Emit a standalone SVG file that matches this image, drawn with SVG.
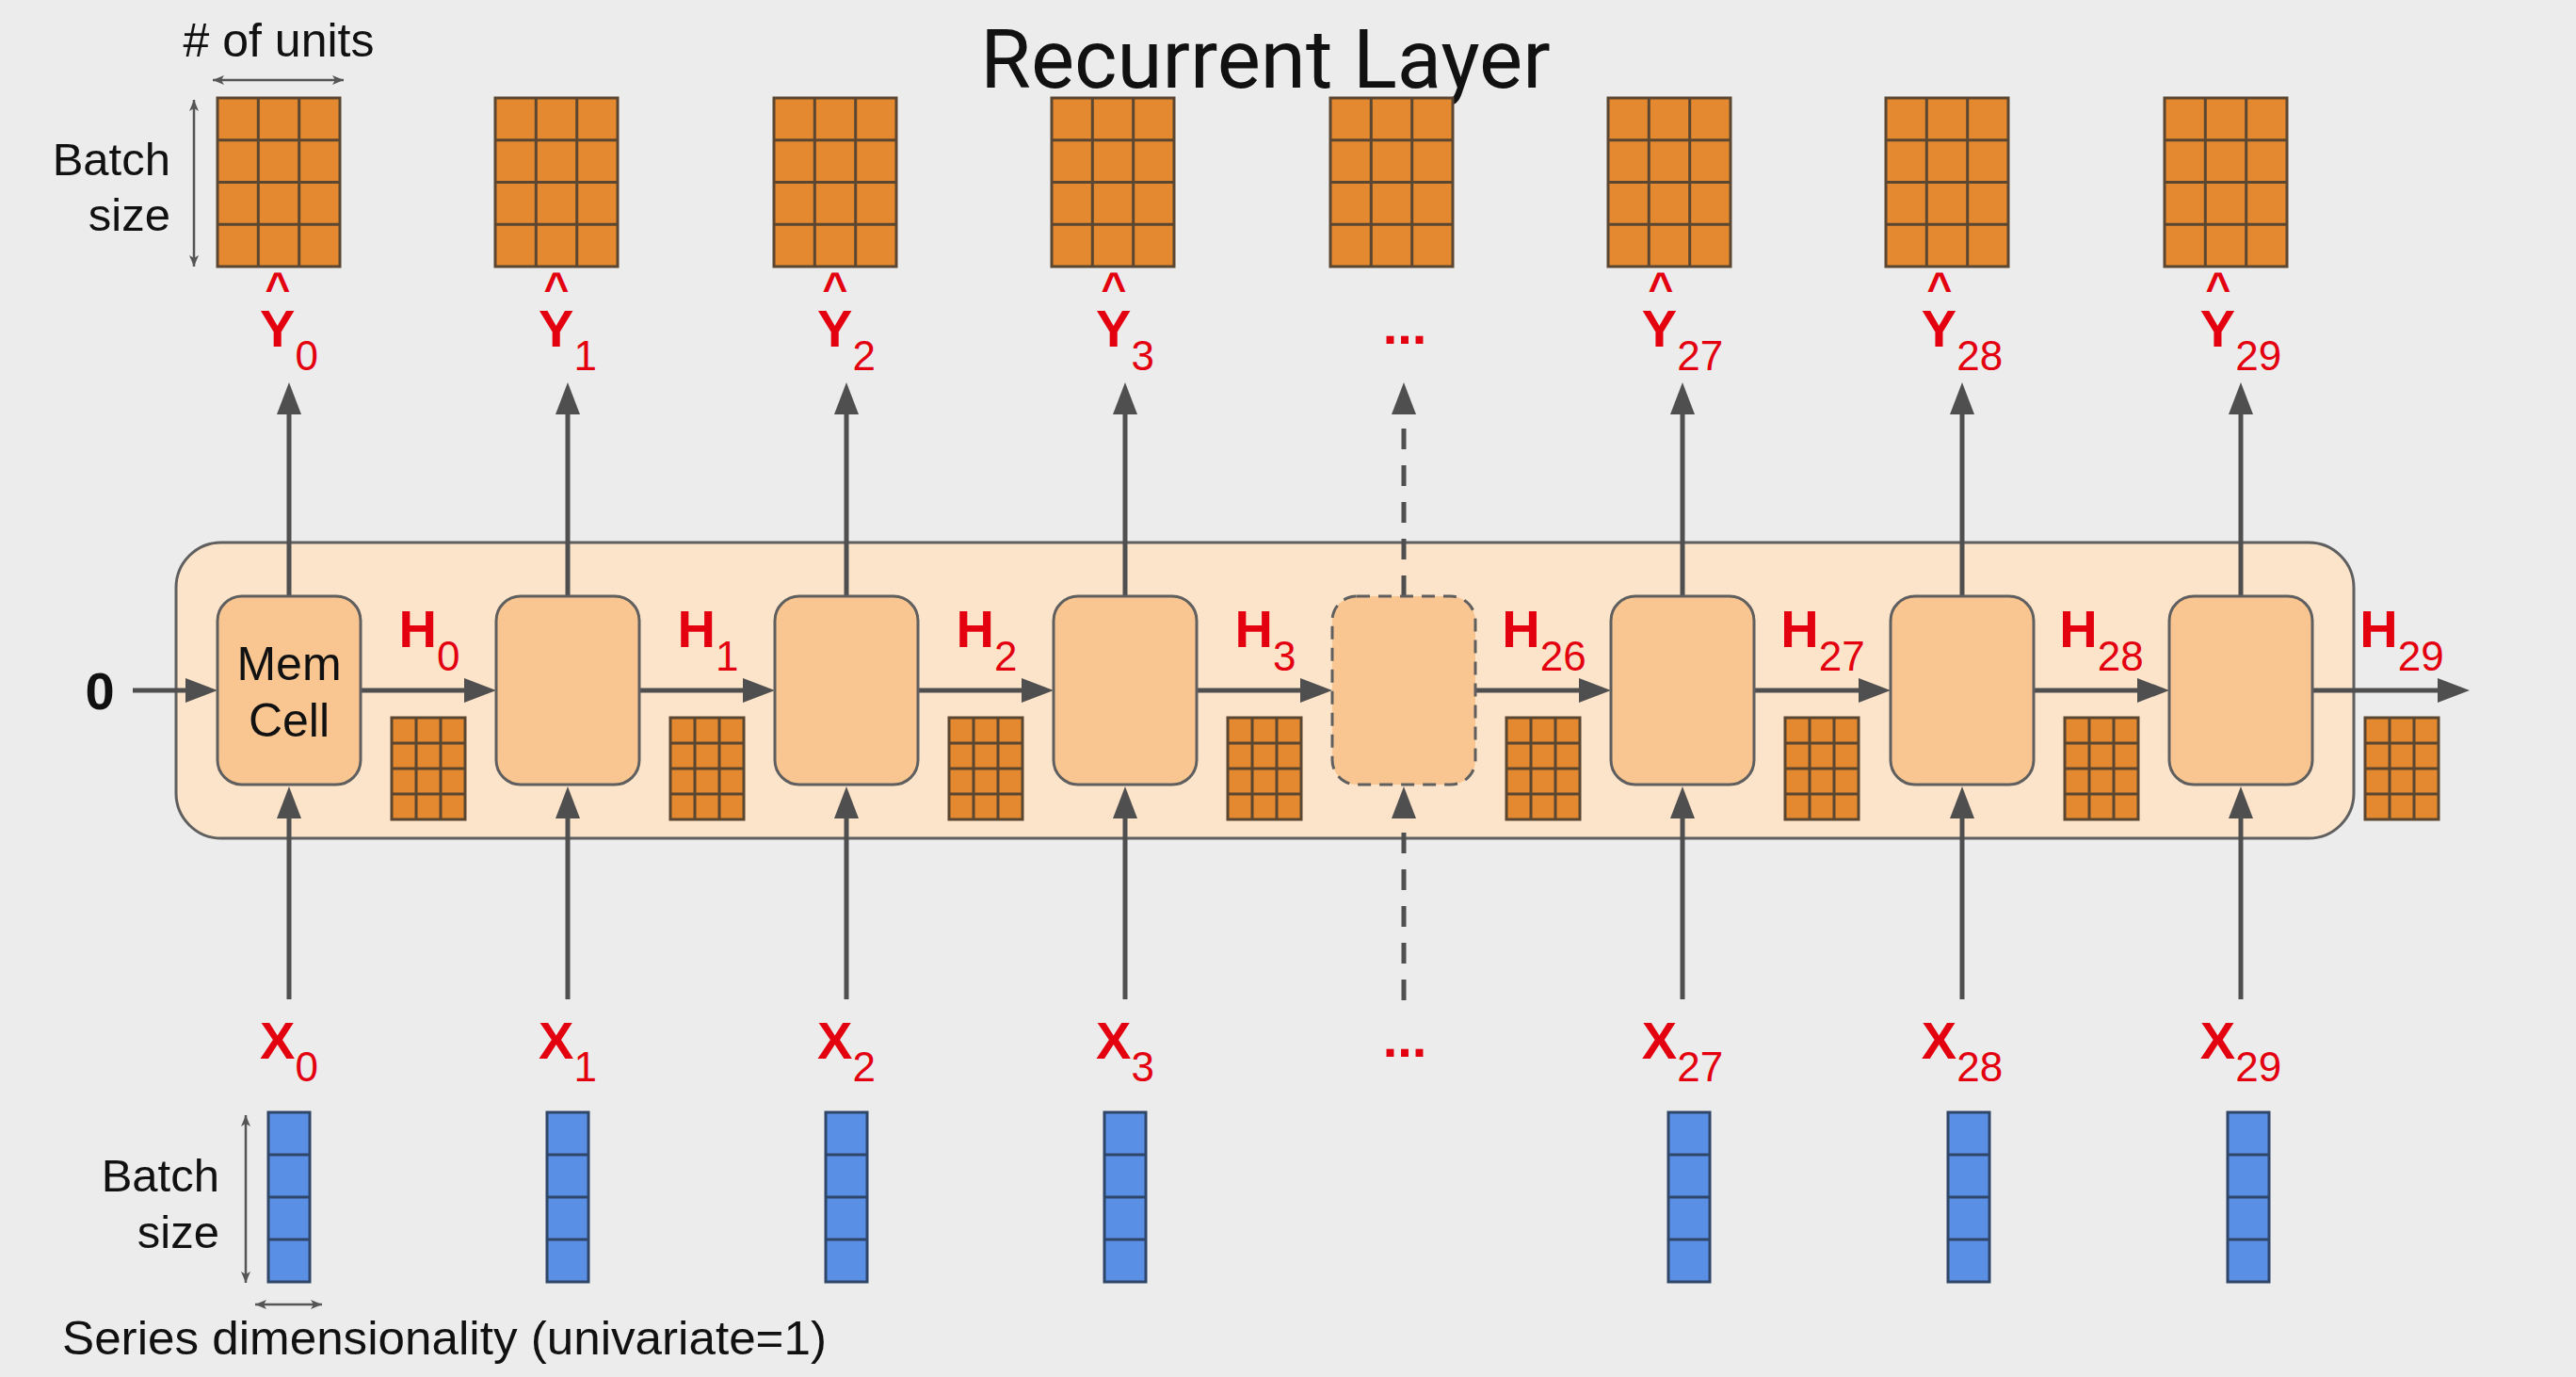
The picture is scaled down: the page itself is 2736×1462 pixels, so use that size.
<svg xmlns="http://www.w3.org/2000/svg" xmlns:xlink="http://www.w3.org/1999/xlink" width="2736" height="1462" viewBox="0 0 2736 1462">
<style>
.txt{font-family:"Liberation Sans",Arial,sans-serif;fill:#111}
.title{font-family:Roboto,"Liberation Sans",sans-serif;font-size:87px;fill:#111}
.lbl{font-family:"Liberation Sans",Arial,sans-serif;font-size:56px;font-weight:bold;fill:#E3000F}
.sub{font-size:44px;font-weight:normal}
.hat{font-family:"Liberation Sans",Arial,sans-serif;font-size:46px;font-weight:bold;fill:#E3000F}
.arr{stroke:#4F4F4F;stroke-width:5;fill:none}
.dash{stroke-dasharray:22 17}
.thin{stroke:#555;stroke-width:2.5;fill:none}
.cell{fill:#F9C692;stroke:#5F5F5F;stroke-width:3}
.og{fill:#E4892F;stroke:#5B4631;stroke-width:3}
.ogl{stroke:#5B4631;stroke-width:3}
.bl{fill:#5A8FE6;stroke:#2F4668;stroke-width:3}
.bll{stroke:#2F4668;stroke-width:3}
</style>
<defs>
<marker id="ah" viewBox="0 0 34 26" refX="0" refY="13" markerWidth="34" markerHeight="26" markerUnits="userSpaceOnUse" orient="auto">
<path d="M0,0 L34,13 L0,26 Z" fill="#4F4F4F"/>
</marker>
<marker id="sa" viewBox="0 0 12 10" refX="12" refY="5" markerWidth="12" markerHeight="10" markerUnits="userSpaceOnUse" orient="auto-start-reverse">
<path d="M0,0 L12,5 L0,10 L3,5 Z" fill="#555"/>
</marker>
<g id="bg">
<rect class="og" x="0" y="0" width="130" height="179"/>
<path class="ogl" d="M43.3,0V179M86.7,0V179M0,44.75H130M0,89.5H130M0,134.25H130"/>
</g>
<g id="sg">
<rect class="og" x="0" y="0" width="78" height="108"/>
<path class="ogl" d="M26,0V108M52,0V108M0,27H78M0,54H78M0,81H78"/>
</g>
<g id="bb">
<rect class="bl" x="0" y="0" width="44" height="180"/>
<path class="bll" d="M0,45H44M0,90H44M0,135H44"/>
</g>
</defs>
<rect x="0" y="0" width="2736" height="1462" fill="#ECECEC"/>

<g id="title"><text class="title" x="1344" y="93" text-anchor="middle">Recurrent Layer</text></g>

<g id="layer">
<rect x="187" y="576" width="2313" height="314" rx="48" ry="48" fill="#FCE4CB" stroke="#5F5F5F" stroke-width="3"/>
</g>

<g id="connectors">
<line class="arr" x1="141" y1="733" x2="197" y2="733" marker-end="url(#ah)"/>
<line class="arr" x1="383" y1="733" x2="493" y2="733" marker-end="url(#ah)"/>
<line class="arr" x1="679" y1="733" x2="789" y2="733" marker-end="url(#ah)"/>
<line class="arr" x1="975" y1="733" x2="1085" y2="733" marker-end="url(#ah)"/>
<line class="arr" x1="1271" y1="733" x2="1381" y2="733" marker-end="url(#ah)"/>
<line class="arr" x1="1567" y1="733" x2="1677" y2="733" marker-end="url(#ah)"/>
<line class="arr" x1="1863" y1="733" x2="1974" y2="733" marker-end="url(#ah)"/>
<line class="arr" x1="2160" y1="733" x2="2270" y2="733" marker-end="url(#ah)"/>
<line class="arr" x1="2456" y1="733" x2="2589" y2="733" marker-end="url(#ah)"/>
<line class="arr" x1="307" y1="633" x2="307" y2="440" marker-end="url(#ah)"/>
<line class="arr" x1="603" y1="633" x2="603" y2="440" marker-end="url(#ah)"/>
<line class="arr" x1="899" y1="633" x2="899" y2="440" marker-end="url(#ah)"/>
<line class="arr" x1="1195" y1="633" x2="1195" y2="440" marker-end="url(#ah)"/>
<line class="arr dash" x1="1491" y1="633" x2="1491" y2="440" marker-end="url(#ah)"/>
<line class="arr" x1="1787" y1="633" x2="1787" y2="440" marker-end="url(#ah)"/>
<line class="arr" x1="2084" y1="633" x2="2084" y2="440" marker-end="url(#ah)"/>
<line class="arr" x1="2380" y1="633" x2="2380" y2="440" marker-end="url(#ah)"/>
<line class="arr" x1="307" y1="1061" x2="307" y2="869" marker-end="url(#ah)"/>
<line class="arr" x1="603" y1="1061" x2="603" y2="869" marker-end="url(#ah)"/>
<line class="arr" x1="899" y1="1061" x2="899" y2="869" marker-end="url(#ah)"/>
<line class="arr" x1="1195" y1="1061" x2="1195" y2="869" marker-end="url(#ah)"/>
<line class="arr dash" x1="1491" y1="1062" x2="1491" y2="869" marker-end="url(#ah)"/>
<line class="arr" x1="1787" y1="1061" x2="1787" y2="869" marker-end="url(#ah)"/>
<line class="arr" x1="2084" y1="1061" x2="2084" y2="869" marker-end="url(#ah)"/>
<line class="arr" x1="2380" y1="1061" x2="2380" y2="869" marker-end="url(#ah)"/>
<line class="thin" x1="206" y1="106" x2="206" y2="283" marker-start="url(#sa)" marker-end="url(#sa)"/>
<line class="thin" x1="226" y1="85" x2="365" y2="85" marker-start="url(#sa)" marker-end="url(#sa)"/>
<line class="thin" x1="261" y1="1184" x2="261" y2="1362" marker-start="url(#sa)" marker-end="url(#sa)"/>
<line class="thin" x1="271" y1="1385" x2="342" y2="1385" marker-start="url(#sa)" marker-end="url(#sa)"/>
</g>

<g id="cell0"><rect class="cell" x="231" y="633" width="152" height="200" rx="26"/>
<text class="txt" x="307" y="722" font-size="50" text-anchor="middle">Mem</text>
<text class="txt" x="307" y="782" font-size="50" text-anchor="middle">Cell</text></g>
<g id="cell1"><rect class="cell" x="527" y="633" width="152" height="200" rx="26"/></g>
<g id="cell2"><rect class="cell" x="823" y="633" width="152" height="200" rx="26"/></g>
<g id="cell3"><rect class="cell" x="1119" y="633" width="152" height="200" rx="26"/></g>
<g id="cell4"><rect class="cell" x="1415" y="633" width="152" height="200" rx="26" stroke-dasharray="14 9"/></g>
<g id="cell5"><rect class="cell" x="1711" y="633" width="152" height="200" rx="26"/></g>
<g id="cell6"><rect class="cell" x="2008" y="633" width="152" height="200" rx="26"/></g>
<g id="cell7"><rect class="cell" x="2304" y="633" width="152" height="200" rx="26"/></g>

<g id="hidden-states">
<use xlink:href="#sg" x="416" y="762"/>
<use xlink:href="#sg" x="712" y="762"/>
<use xlink:href="#sg" x="1008" y="762"/>
<use xlink:href="#sg" x="1304" y="762"/>
<use xlink:href="#sg" x="1600" y="762"/>
<use xlink:href="#sg" x="1896" y="762"/>
<use xlink:href="#sg" x="2193" y="762"/>
<use xlink:href="#sg" x="2512" y="762"/>
<text class="lbl" x="456" y="687" text-anchor="middle">H<tspan class="sub" dy="25">0</tspan></text>
<text class="lbl" x="752" y="687" text-anchor="middle">H<tspan class="sub" dy="25">1</tspan></text>
<text class="lbl" x="1048" y="687" text-anchor="middle">H<tspan class="sub" dy="25">2</tspan></text>
<text class="lbl" x="1344" y="687" text-anchor="middle">H<tspan class="sub" dy="25">3</tspan></text>
<text class="lbl" x="1640" y="687" text-anchor="middle">H<tspan class="sub" dy="25">26</tspan></text>
<text class="lbl" x="1936" y="687" text-anchor="middle">H<tspan class="sub" dy="25">27</tspan></text>
<text class="lbl" x="2232" y="687" text-anchor="middle">H<tspan class="sub" dy="25">28</tspan></text>
<text class="lbl" x="2551" y="687" text-anchor="middle">H<tspan class="sub" dy="25">29</tspan></text>
</g>

<g id="init"><text class="txt" x="106" y="753" font-size="56" font-weight="bold" text-anchor="middle">0</text></g>

<g id="outputs">
<use xlink:href="#bg" x="231" y="104"/>
<use xlink:href="#bg" x="526" y="104"/>
<use xlink:href="#bg" x="822" y="104"/>
<use xlink:href="#bg" x="1117" y="104"/>
<use xlink:href="#bg" x="1413" y="104"/>
<use xlink:href="#bg" x="1708" y="104"/>
<use xlink:href="#bg" x="2003" y="104"/>
<use xlink:href="#bg" x="2299" y="104"/>
<text class="hat" x="295" y="322" text-anchor="middle">^</text>
<text class="hat" x="591" y="322" text-anchor="middle">^</text>
<text class="hat" x="887" y="322" text-anchor="middle">^</text>
<text class="hat" x="1183" y="322" text-anchor="middle">^</text>
<text class="hat" x="1764" y="322" text-anchor="middle">^</text>
<text class="hat" x="2060" y="322" text-anchor="middle">^</text>
<text class="hat" x="2356" y="322" text-anchor="middle">^</text>
<text class="lbl" x="307" y="368" text-anchor="middle">Y<tspan class="sub" dy="25">0</tspan></text>
<text class="lbl" x="603" y="368" text-anchor="middle">Y<tspan class="sub" dy="25">1</tspan></text>
<text class="lbl" x="899" y="368" text-anchor="middle">Y<tspan class="sub" dy="25">2</tspan></text>
<text class="lbl" x="1195" y="368" text-anchor="middle">Y<tspan class="sub" dy="25">3</tspan></text>
<text class="lbl" x="1492" y="365" text-anchor="middle">...</text>
<text class="lbl" x="1787" y="368" text-anchor="middle">Y<tspan class="sub" dy="25">27</tspan></text>
<text class="lbl" x="2084" y="368" text-anchor="middle">Y<tspan class="sub" dy="25">28</tspan></text>
<text class="lbl" x="2380" y="368" text-anchor="middle">Y<tspan class="sub" dy="25">29</tspan></text>
</g>

<g id="inputs">
<use xlink:href="#bb" x="285" y="1181"/>
<use xlink:href="#bb" x="581" y="1181"/>
<use xlink:href="#bb" x="877" y="1181"/>
<use xlink:href="#bb" x="1173" y="1181"/>
<use xlink:href="#bb" x="1772" y="1181"/>
<use xlink:href="#bb" x="2069" y="1181"/>
<use xlink:href="#bb" x="2366" y="1181"/>
<text class="lbl" x="307" y="1124" text-anchor="middle">X<tspan class="sub" dy="24">0</tspan></text>
<text class="lbl" x="603" y="1124" text-anchor="middle">X<tspan class="sub" dy="24">1</tspan></text>
<text class="lbl" x="899" y="1124" text-anchor="middle">X<tspan class="sub" dy="24">2</tspan></text>
<text class="lbl" x="1195" y="1124" text-anchor="middle">X<tspan class="sub" dy="24">3</tspan></text>
<text class="lbl" x="1492" y="1122" text-anchor="middle">...</text>
<text class="lbl" x="1787" y="1124" text-anchor="middle">X<tspan class="sub" dy="24">27</tspan></text>
<text class="lbl" x="2084" y="1124" text-anchor="middle">X<tspan class="sub" dy="24">28</tspan></text>
<text class="lbl" x="2380" y="1124" text-anchor="middle">X<tspan class="sub" dy="24">29</tspan></text>
</g>

<g id="annotations">
<text class="txt" x="296" y="60" font-size="50" text-anchor="middle"># of units</text>
<text class="txt" x="181" y="186" font-size="49" text-anchor="end">Batch</text>
<text class="txt" x="181" y="245" font-size="49" text-anchor="end">size</text>
<text class="txt" x="233" y="1265" font-size="49" text-anchor="end">Batch</text>
<text class="txt" x="233" y="1325" font-size="49" text-anchor="end">size</text>
<text class="txt" x="66" y="1438" font-size="50" textLength="812" lengthAdjust="spacingAndGlyphs">Series dimensionality (univariate=1)</text>
</g>
</svg>
